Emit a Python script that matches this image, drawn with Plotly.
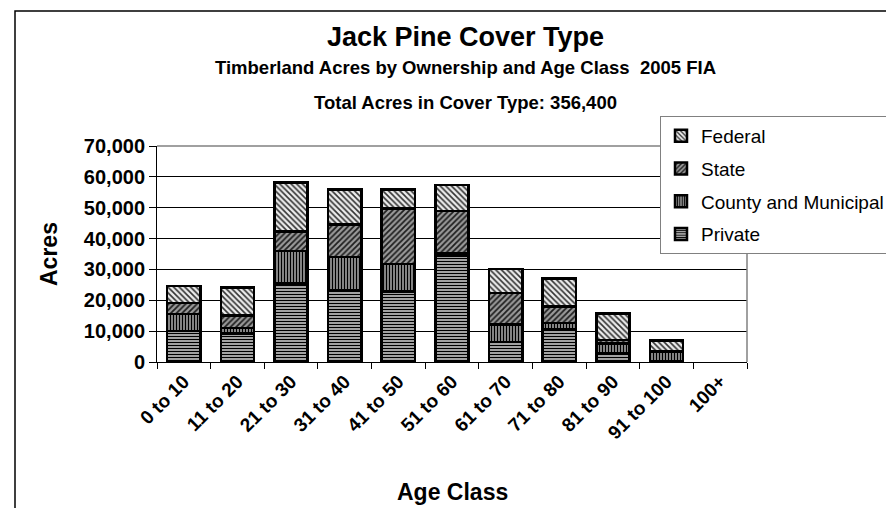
import plotly.graph_objects as go

# ---------------- data (acres) ----------------
age_classes = ["0 to 10", "11 to 20", "21 to 30", "31 to 40", "41 to 50", "51 to 60",
               "61 to 70", "71 to 80", "81 to 90", "91 to 100", "100+"]
private = [10000, 9300, 25400, 23300, 22900, 34500, 6500, 10700, 2700, 300, 0]
county_municipal = [5600, 1800, 10500, 10800, 8900, 700, 5700, 1900, 3300, 2900, 0]
state = [3500, 4000, 6400, 10400, 17900, 13800, 10100, 5400, 1100, 300, 0]
federal = [5600, 9100, 15900, 11400, 6200, 8400, 7800, 9100, 8700, 3400, 0]
y_ticks = [0, 10000, 20000, 30000, 40000, 50000, 60000, 70000]

# ---------------- layout geometry (pixels) ----------------
W, H = 894, 508
L, R, T, B = 149, 155, 138, 154
PW, PH = W - L - R, H - T - B
FONT = "Liberation Sans, Arial, Helvetica, sans-serif"


def px_x(x):
    return (x - L) / PW


def px_y(y):
    return (H - B - y) / PH


series = [
    ("Private", private, 4, dict(shape="-", fgcolor="#000000", bgcolor="#c4c4c4", size=3, solidity=0.45)),
    ("County and Municipal", county_municipal, 3, dict(shape="|", fgcolor="#000000", bgcolor="#b0b0b0", size=3, solidity=0.5)),
    ("State", state, 2, dict(shape="/", fgcolor="#1e1e1e", bgcolor="#9a9a9a", size=4, solidity=0.45)),
    ("Federal", federal, 1, dict(shape="\\", fgcolor="#333333", bgcolor="#ececec", size=4, solidity=0.4)),
]

fig = go.Figure()
for name, vals, rank, pat in series:
    fig.add_trace(go.Bar(
        x=age_classes, y=vals, name=name, legendgroup=name, legendrank=rank,
        marker=dict(color=pat["bgcolor"],
                    line=dict(color="black", width=[2.5 if v > 0 else 0 for v in vals]),
                    pattern=dict(shape=pat["shape"], fgcolor=pat["fgcolor"],
                                 bgcolor=pat["bgcolor"], size=pat["size"],
                                 solidity=pat["solidity"], fillmode="replace")),
        hoverinfo="x+y+name",
    ))

fig.update_layout(
    width=W, height=H,
    barmode="stack", bargap=0.38,
    margin=dict(l=L, r=R, t=T, b=B, autoexpand=False),
    paper_bgcolor="white", plot_bgcolor="white",
    font=dict(family=FONT, color="black"),
    showlegend=True,
    legend=dict(
        x=px_x(652), y=px_y(108), xanchor="left", yanchor="top",
        bgcolor="white", bordercolor="#808080", borderwidth=1,
        font=dict(family=FONT, size=19, color="black"),
        traceorder="grouped", tracegroupgap=5,
    ),
    xaxis=dict(
        type="category", tickson="boundaries", ticks="outside", ticklen=6,
        tickcolor="black", tickwidth=1, showline=True, linecolor="black",
        linewidth=1, showgrid=False, tickangle=-45,
        tickfont=dict(family=FONT, size=19, color="black", weight="bold"),
        automargin=False,
    ),
    yaxis=dict(
        range=[0, 70000], tickvals=y_ticks, tickformat=",", ticks="outside",
        ticklen=7, tickcolor="black", tickwidth=1, showline=True,
        linecolor="black", linewidth=1, showgrid=True, gridcolor="black",
        gridwidth=1, zeroline=False,
        tickfont=dict(family=FONT, size=20, color="black", weight="bold"),
        automargin=False,
    ),
)

# plot-area border (top and right, grey)
fig.add_shape(type="line", xref="paper", yref="paper", x0=0, x1=1, y0=1, y1=1,
              line=dict(color="#808080", width=1.5))
fig.add_shape(type="line", xref="paper", yref="paper", x0=1, x1=1, y0=0, y1=1,
              line=dict(color="#808080", width=1.5))
# chart-area border
fig.add_shape(type="rect", xref="paper", yref="paper",
              x0=px_x(7), x1=px_x(905), y0=px_y(3), y1=px_y(520),
              line=dict(color="black", width=1.5), fillcolor="rgba(0,0,0,0)")

titles = [
    ("Jack Pine Cover Type", 27, 29),
    ("Timberland Acres by Ownership and Age Class  2005 FIA", 18.5, 60),
    ("Total Acres in Cover Type: 356,400", 18.5, 94),
]
for text, size, yc in titles:
    fig.add_annotation(text=text, xref="paper", yref="paper", x=px_x(457), y=px_y(yc),
                       xanchor="center", yanchor="middle", showarrow=False,
                       font=dict(family=FONT, size=size, color="black", weight="bold"))

fig.add_annotation(text="Age Class", xref="paper", yref="paper", x=px_x(444), y=px_y(484),
                   xanchor="center", yanchor="middle", showarrow=False,
                   font=dict(family=FONT, size=23, color="black", weight="bold"))
fig.add_annotation(text="Acres", xref="paper", yref="paper", x=px_x(41), y=px_y(246),
                   xanchor="center", yanchor="middle", showarrow=False, textangle=-90,
                   font=dict(family=FONT, size=23, color="black", weight="bold"))

fig.write_html("out.html")
